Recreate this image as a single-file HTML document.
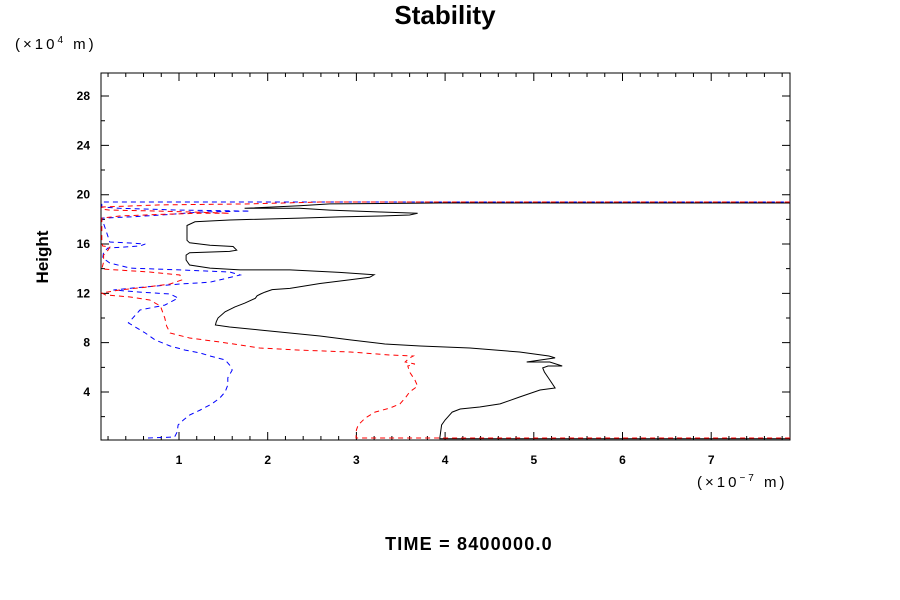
<!DOCTYPE html>
<html><head><meta charset="utf-8"><style>
body{margin:0;background:#fff;}
svg{display:block;font-family:"Liberation Sans",sans-serif;}
</style></head><body>
<svg id="chart" width="900" height="600">
<text x="445" y="24" text-anchor="middle" font-size="26" font-weight="bold">Stability</text>
<text x="15" y="49" font-size="15" letter-spacing="3">(×10<tspan dy="-6" font-size="10">4</tspan><tspan dy="6"> m)</tspan></text>
<text x="48" y="257" font-size="17" font-weight="bold" text-anchor="middle" transform="rotate(-90 48 257)">Height</text>
<text x="697" y="487" font-size="15" letter-spacing="3">(×10<tspan dy="-6" font-size="10">−7</tspan><tspan dy="6"> m)</tspan></text>
<text x="469" y="550" font-size="18" font-weight="bold" letter-spacing="1.2" text-anchor="middle">TIME = 8400000.0</text>
<g id="axes"></g>
<g id="plot"></g>
</svg>
<script>
const xTicks=[1,2,3,4,5,6,7];
const yTicks=[4,8,12,16,20,24,28];
const blackX=[7.89,3.94,3.94,3.96,4.00,4.08,4.17,4.39,4.62,4.84,5.07,5.24,5.18,5.12,5.10,5.16,5.32,5.18,4.92,5.24,5.17,4.84,4.28,3.72,3.32,2.93,2.59,2.25,1.91,1.57,1.41,1.42,1.44,1.52,1.63,1.74,1.86,1.88,1.92,1.97,2.05,2.25,2.59,2.93,3.15,3.20,2.81,2.25,1.69,1.35,1.12,1.08,1.08,1.12,1.57,1.65,1.61,1.35,1.12,1.09,1.09,1.18,1.57,2.36,2.81,3.27,3.60,3.69,3.27,2.70,2.36,1.74,2.36,2.70,3.94,7.89];
const blackY=[0.2,0.2,0.27,1.32,1.73,2.37,2.62,2.78,3.03,3.59,4.16,4.32,4.97,5.62,5.95,6.11,6.11,6.43,6.43,6.76,6.92,7.24,7.57,7.73,7.89,8.22,8.54,8.78,9.03,9.27,9.43,9.7,10.0,10.5,10.9,11.2,11.6,11.8,11.95,12.1,12.3,12.4,12.8,13.1,13.3,13.5,13.7,13.9,13.9,14.05,14.3,14.7,15.1,15.3,15.4,15.5,15.8,15.9,16.1,16.3,17.5,17.8,17.95,18.1,18.2,18.27,18.35,18.5,18.6,18.75,18.9,18.9,19.1,19.25,19.33,19.33];
const redX=[7.89,2.995,3.00,3.02,3.10,3.21,3.38,3.49,3.55,3.60,3.69,3.66,3.60,3.58,3.66,3.55,3.60,3.64,3.38,2.93,2.36,1.91,1.69,1.46,1.12,0.90,0.86,0.84,0.79,0.67,0.45,0.17,0.13,0.33,0.62,0.90,1.03,1.01,0.67,0.13,0.15,0.15,0.20,0.22,0.14,0.13,0.13,0.33,0.79,1.24,1.57,0.79,0.22,0.13,0.13,0.79,1.80,2.59,7.89];
const redY=[0.27,0.27,0.92,1.32,1.89,2.37,2.70,3.03,3.51,4.0,4.48,4.97,5.62,6.11,6.27,6.43,6.76,6.92,7.0,7.24,7.4,7.57,7.81,8.05,8.38,8.78,9.35,10.0,10.97,11.46,11.7,11.87,12.03,12.27,12.5,12.76,13.08,13.49,13.73,13.97,14.54,15.1,15.5,15.76,15.84,16.08,18.1,18.27,18.4,18.5,18.5,18.67,18.75,18.83,19.0,19.17,19.25,19.41,19.41];
const blueX=[0.65,0.95,0.98,0.99,1.05,1.12,1.24,1.37,1.46,1.52,1.55,1.55,1.60,1.57,1.52,1.35,1.24,1.07,0.90,0.73,0.62,0.43,0.56,0.84,0.99,0.90,0.56,0.26,0.48,1.01,1.35,1.69,1.57,1.01,0.45,0.22,0.14,0.15,0.20,0.39,0.56,0.62,0.45,0.22,0.13,0.45,0.90,1.24,1.80,1.01,0.33,0.13,0.13,7.89];
const blueY=[0.27,0.35,0.76,1.32,1.73,2.13,2.54,3.03,3.51,4.0,4.57,5.14,5.78,6.19,6.6,6.92,7.16,7.4,7.73,8.22,8.78,9.6,10.65,11.05,11.62,11.95,12.1,12.27,12.43,12.76,12.9,13.49,13.73,13.9,14.05,14.46,14.87,15.35,15.68,15.76,15.84,16.0,16.08,16.16,18.1,18.2,18.4,18.6,18.67,18.75,18.9,19.0,19.41,19.41];

const L=101,R=790,T=73,B=440;
const X0=90.3,XS=88.7,Y0=441.3,YS=12.33;
const sx=v=>X0+v*XS, sy=v=>Y0-v*YS;
const NS='http://www.w3.org/2000/svg';
const axes=document.getElementById('axes'), plot=document.getElementById('plot');
function mk(tag,attrs,parent){const e=document.createElementNS(NS,tag);for(const k in attrs)e.setAttribute(k,attrs[k]);parent.appendChild(e);return e;}

const frame=mk('rect',{x:L,y:T,width:R-L,height:B-T,fill:'none',stroke:'#000','stroke-width':1},axes);



let d='';
for(let v=0.2;v<7.9;v+=0.2){const px=sx(v);if(px<L||px>R)continue;const major=Math.abs(v-Math.round(v))<0.01;const len=major?8:4;d+=`M${px},${B}v${-len}M${px},${T}v${len}`;}
for(let v=2;v<30;v+=2){const py=sy(v);if(py<T||py>B)continue;const major=v%4===0;const len=major?8:4;d+=`M${L},${py}h${len}M${R},${py}h${-len}`;}
const ticks=mk('path',{d:d,stroke:'#000','stroke-width':1,fill:'none'},axes);



xTicks.forEach(v=>{const t=mk('text',{x:sx(v),y:B+24,'text-anchor':'middle','font-size':12,'font-weight':'bold'},axes);t.textContent=v;

});
yTicks.forEach(v=>{const t=mk('text',{x:L-11,y:sy(v)+4,'text-anchor':'end','font-size':12,'font-weight':'bold'},axes);t.textContent=v;

});

function line(xs,ys,color,dash,name){
 const pts=xs.map((x,i)=>sx(x).toFixed(1)+','+sy(ys[i]).toFixed(1)).join(' ');
 const p=mk('polyline',{points:pts,fill:'none',stroke:color,'stroke-width':1},plot);
 if(dash)p.setAttribute('stroke-dasharray',dash);
 
 
}
line(blackX,blackY,'#000',null,'series-black');
line(blueX,blueY,'#0000ff','5,4','series-blue');
line(redX,redY,'#ff0000','5,4','series-red');
</script>
</body></html>
